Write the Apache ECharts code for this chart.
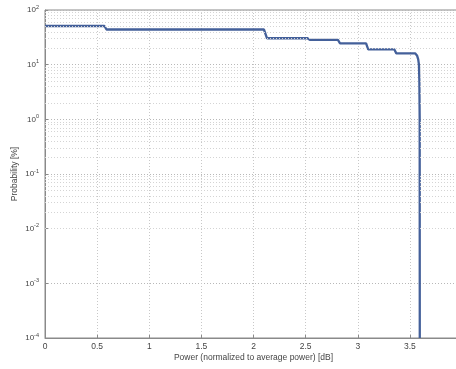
<!DOCTYPE html>
<html><head><meta charset="utf-8">
<script src="https://cdn.jsdelivr.net/npm/echarts@6/dist/echarts.min.js"></script>
<style>html,body{margin:0;padding:0;background:#fff}#c{width:456px;height:369px}</style>
</head><body><div id="c"></div>
<script>
// Power (dB) breakpoints and probability (%) values of the CCDF curve
const powerDb = [0, 0.57, 0.59, 2.10, 2.13, 2.52, 2.54, 2.81, 2.83, 3.08, 3.10, 3.35, 3.37, 3.55, 3.57, 3.58, 3.587, 3.591, 3.594, 3.595];
const probPct = [51, 51, 44, 44, 30.4, 30.4, 28.3, 28.3, 24.6, 24.6, 19.1, 19.1, 16.1, 16.1, 14.5, 12.5, 10, 5, 1, 0.0001];
const xTicks = [0, 0.5, 1, 1.5, 2, 2.5, 3, 3.5];
const yExponents = [-4, -3, -2, -1, 0, 1, 2];
const minorMultipliers = [2, 3, 4, 5, 6, 7, 8, 9];

const minorLines = [];
yExponents.slice(0, -1).forEach(e => minorMultipliers.forEach(m => minorLines.push({yAxis: m * Math.pow(10, e)})));

const chart = echarts.init(document.getElementById('c'));
const lab = {color: '#444', fontSize: 8.5, fontFamily: 'Liberation Sans, Arial, sans-serif'};
chart.setOption({
  animation: false,
  grid: {left: 45, right: -6, top: 10, bottom: 31, show: true, borderColor: '#8a8a8a', borderWidth: 1,
         outerBoundsMode: 'none', containLabel: false},
  xAxis: {
    type: 'value', min: 0, max: 4, interval: 0.5,
    name: 'Power (normalized to average power) [dB]', nameLocation: 'middle', nameGap: 15,
    nameMoveOverlap: false,
    nameTextStyle: Object.assign({}, lab, {fontSize: 8.5}),
    axisLine: {lineStyle: {color: '#8a8a8a'}},
    axisTick: {inside: true, length: 3, lineStyle: {color: '#8a8a8a'}},
    axisLabel: Object.assign({}, lab, {margin: 4, formatter: v => xTicks.indexOf(v) >= 0 ? String(v) : ''}),
    splitLine: {show: true, lineStyle: {color: '#c8c8c8', type: [1, 2], width: 1}}
  },
  yAxis: {
    type: 'log', logBase: 10, min: 1e-4, max: 100,
    name: 'Probability [%]', nameLocation: 'middle', nameGap: 26,
    nameMoveOverlap: false,
    nameTextStyle: Object.assign({}, lab, {fontSize: 8.5}),
    axisLine: {show: true, lineStyle: {color: '#8a8a8a'}},
    axisTick: {inside: true, length: 3, lineStyle: {color: '#8a8a8a'}},
    axisLabel: {
      margin: 6,
      formatter: v => '{b|10}{s|' + Math.round(Math.log10(v)) + '}',
      rich: {
        b: Object.assign({}, lab, {fontSize: 8}),
        s: Object.assign({}, lab, {fontSize: 5.5, verticalAlign: 'top', padding: [0, 0, 6, 0]})
      }
    },
    splitLine: {show: true, lineStyle: {color: '#b8b8b8', type: [1, 2], width: 1}}
  },
  series: [{
    type: 'line',
    data: powerDb.map((x, i) => [x, probPct[i]]),
    showSymbol: false,
    lineStyle: {color: '#44609a', width: 2.3},
    clip: true,
    markLine: {
      silent: true, symbol: 'none', label: {show: false},
      lineStyle: {color: '#d4d4d4', type: [1, 2], width: 1},
      data: minorLines
    }
  }]
});
</script></body></html>
